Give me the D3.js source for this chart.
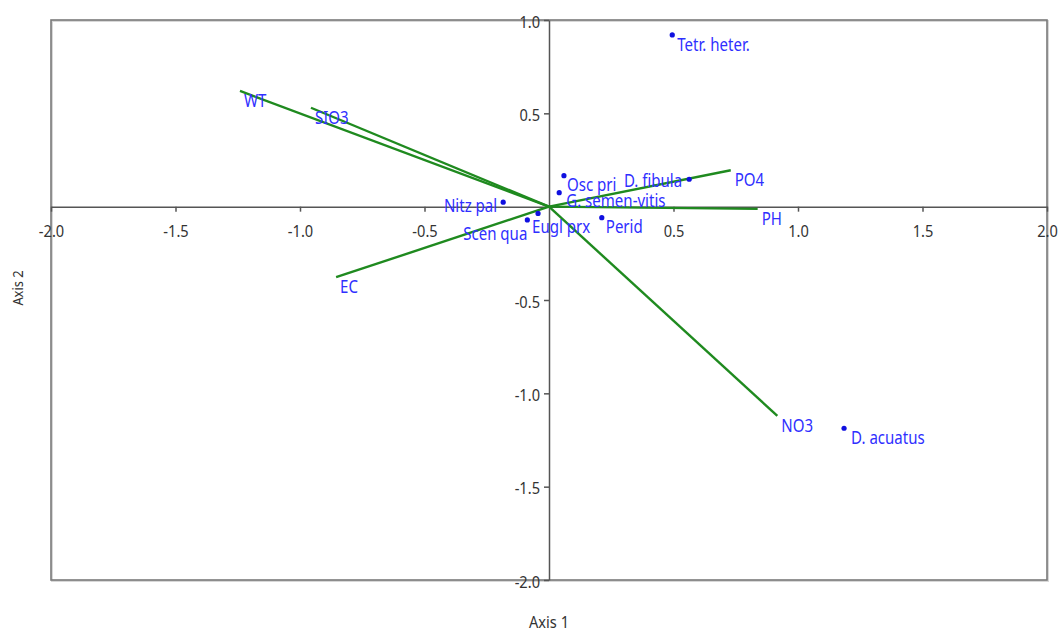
<!DOCTYPE html>
<html><head><meta charset="utf-8">
<script src="https://cdn.jsdelivr.net/npm/d3@7"></script>
<style>
html,body{margin:0;padding:0;background:#fff;}
svg{display:block;}
text{font-family:"Noto Sans","Open Sans",sans-serif;}
</style></head>
<body>
<svg id="chart" width="1059" height="629"></svg>
<script>
// ---- data ----
const speciesNames = ["Tetr. heter.","D. fibula","D. acuatus","Osc pri","G. semen-vitis","Nitz pal","Scen qua","Eugl prx","Perid"];
const speciesX = [0.495, 0.563, 1.185, 0.060, 0.041, -0.184, -0.087, -0.044, 0.212];
const speciesY = [0.920, 0.147, -1.187, 0.166, 0.075, 0.024, -0.071, -0.036, -0.059];

const envNames = ["WT","SIO3","PO4","PH","EC","NO3"];
const envX = [-1.241, -0.956, 0.730, 0.838, -0.855, 0.917];
const envY = [0.620, 0.530, 0.195, -0.012, -0.378, -1.121];

const xTicks = [-2.0,-1.5,-1.0,-0.5,0.5,1.0,1.5,2.0];
const yTicks = [1.0,0.5,-0.5,-1.0,-1.5,-2.0];
const xTitle = "Axis 1";
const yTitle = "Axis 2";

// ---- layout (label placement, not data) ----
const speciesLabelPlace = {
  "Tetr. heter.":{anchor:"start",dx:5,dy:16},
  "D. fibula":{anchor:"end",dx:-7,dy:8},
  "D. acuatus":{anchor:"start",dx:7,dy:16},
  "Osc pri":{anchor:"start",dx:3,dy:15},
  "G. semen-vitis":{anchor:"start",dx:7,dy:14.5},
  "Nitz pal":{anchor:"end",dx:-6,dy:9.5},
  "Scen qua":{anchor:"end",dx:0,dy:20},
  "Eugl prx":{anchor:"start",dx:-6,dy:20},
  "Perid":{anchor:"start",dx:4,dy:15}
};
const SX = 0.86; // horizontal condensing of text

const svg = d3.select("#chart");
const L = 51, R = 1047, T = 20, B = 580;
const x = d3.scaleLinear().domain([-2,2]).range([L,R]);
const y = d3.scaleLinear().domain([-2,1]).range([B,T]);
const fmt = d => d.toFixed(1);

function label(g, px, py, txt, size, color, anchor){
  return g.append("text")
    .attr("transform",`translate(${px},${py}) scale(${SX},1)`)
    .attr("text-anchor",anchor||"start")
    .attr("fill",color).style("font-size",size+"px").text(txt);
}

// frame
svg.append("rect").attr("x",L+1).attr("y",T+1).attr("width",R-L).attr("height",B-T)
  .attr("fill","none").attr("stroke","#d8d8d8").attr("stroke-width",2);
svg.append("rect").attr("x",L).attr("y",T).attr("width",R-L).attr("height",B-T)
  .attr("fill","none").attr("stroke","#7a7a7a").attr("stroke-width",1.6);

// x axis through y=0
const xAxis = d3.axisBottom(x).tickValues(xTicks).tickFormat(fmt).tickSizeInner(5).tickSizeOuter(0);
const gx = svg.append("g").attr("transform",`translate(0,${y(0)})`).call(xAxis);
gx.select(".domain").attr("stroke","#555").attr("stroke-width",1.5);
gx.selectAll(".tick line").attr("stroke","#555").attr("stroke-width",1.5);
gx.selectAll(".tick text").attr("x",0).attr("y",30).attr("dy",null)
  .attr("transform",`scale(${SX},1)`)
  .attr("fill","#333").style("font-size","17px").style("font-family","'Noto Sans',sans-serif");

// y axis through x=0
const yAxis = d3.axisLeft(y).tickValues(yTicks).tickFormat(fmt).tickSizeInner(5).tickSizeOuter(0);
const gy = svg.append("g").attr("transform",`translate(${x(0)},0)`).call(yAxis);
gy.select(".domain").attr("stroke","#555").attr("stroke-width",1.5);
gy.selectAll(".tick line").attr("stroke","#555").attr("stroke-width",1.5);
gy.selectAll(".tick text").attr("x",-9/SX).attr("y",7).attr("dy",null)
  .attr("transform",`scale(${SX},1)`)
  .attr("fill","#333").style("font-size","17px").style("font-family","'Noto Sans',sans-serif");

// axis titles
label(svg, x(0), 628, xTitle, 17, "#333", "middle");
svg.append("text").attr("transform",`translate(23,288) rotate(-90) scale(${SX},1)`).attr("text-anchor","middle")
  .attr("fill","#333").style("font-size","15px").text(yTitle);

// env vectors
const env = envNames.map((n,i)=>({n, x:envX[i], y:envY[i]}));
svg.append("g").selectAll("line").data(env).join("line")
  .attr("x1",x(0)).attr("y1",y(0)).attr("x2",d=>x(d.x)).attr("y2",d=>y(d.y))
  .attr("stroke","#1f8a1f").attr("stroke-width",2.4);
const gEnvL = svg.append("g");
env.forEach(d => label(gEnvL, x(d.x)+4, y(d.y)+16, d.n, 17.5, "#2f2fff"));

// species points
const sp = speciesNames.map((n,i)=>({n, x:speciesX[i], y:speciesY[i]}));
svg.append("g").selectAll("circle").data(sp).join("circle")
  .attr("cx",d=>x(d.x)).attr("cy",d=>y(d.y)).attr("r",2.6).attr("fill","#1010e0");
const gSpL = svg.append("g");
sp.forEach(d => {
  const p = speciesLabelPlace[d.n];
  label(gSpL, x(d.x)+p.dx, y(d.y)+p.dy, d.n, 17.5, "#2f2fff", p.anchor);
});
</script>
</body></html>
